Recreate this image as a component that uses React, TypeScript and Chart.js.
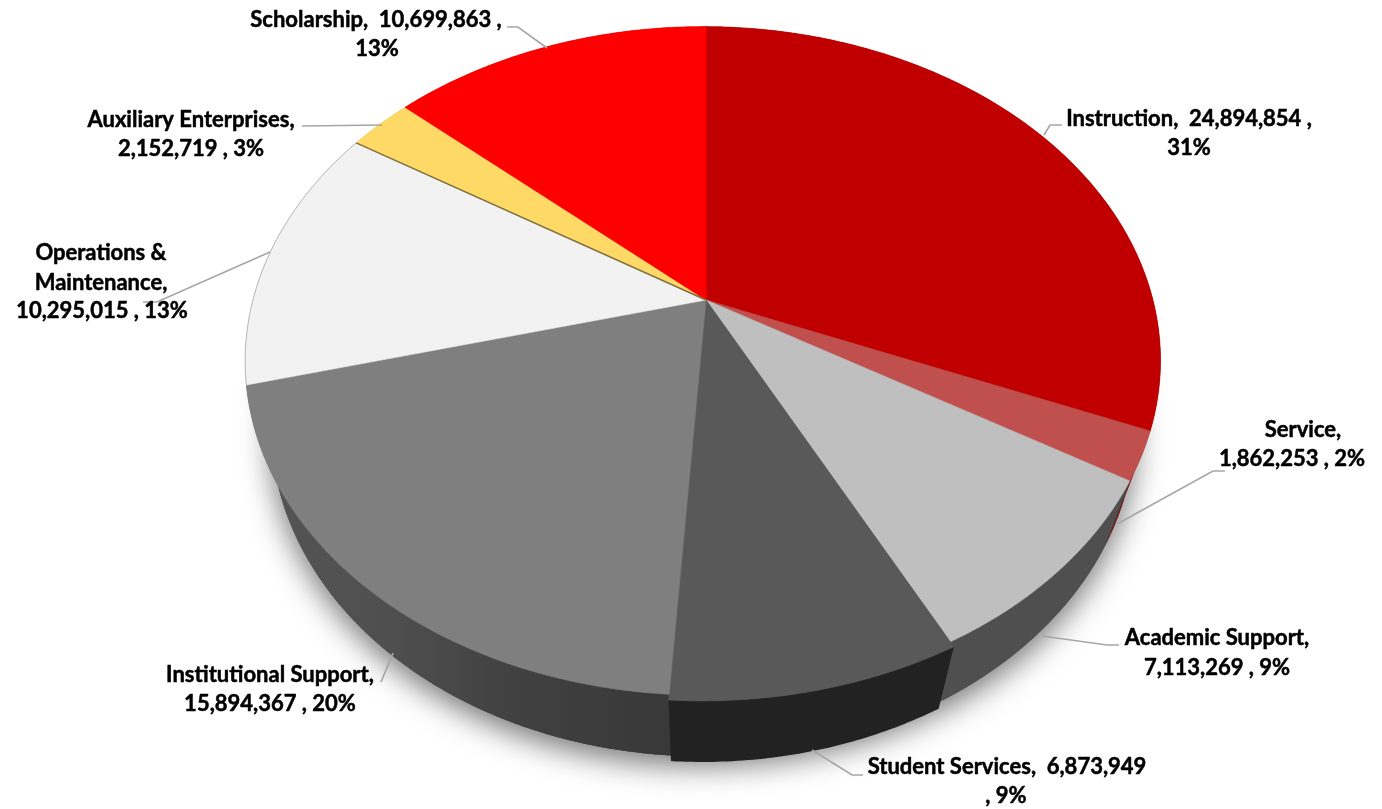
import React, { useEffect, useRef } from "react";
import { Chart, registerables } from "chart.js";

Chart.register(...registerables);

// Spending by function, clockwise from twelve o'clock.
const categories = [
  "Instruction",
  "Service",
  "Academic Support",
  "Student Services",
  "Institutional Support",
  "Operations & Maintenance",
  "Auxiliary Enterprises",
  "Scholarship",
];
const amounts = [24894854, 1862253, 7113269, 6873949, 15894367, 10295015, 2152719, 10699863];
const faceColors = ["#C00000", "#C0504D", "#BFBFBF", "#595959", "#7F7F7F", "#F2F2F2", "#FFD966", "#FF0000"];
const wallColors = ["#7a0000", "#7a1f1c", "#4f4f4f", "#222222", "#484848", "#8a8a8a", "#8f7a3a", "#900000"];
const rimScale = [1, 1, 1, 1.012, 1, 1, 1, 1];

const labelLines = [
  ["Instruction,  24,894,854 ,", "31%"],
  ["Service,", "1,862,253 , 2%"],
  ["Academic Support,", "7,113,269 , 9%"],
  ["Student Services,  6,873,949", ", 9%"],
  ["Institutional Support,", "15,894,367 , 20%"],
  ["Operations &", "Maintenance,", "10,295,015 , 13%"],
  ["Auxiliary Enterprises,", "2,152,719 , 3%"],
  ["Scholarship,  10,699,863 ,", "13%"],
];

// Placement of each text line: [centre x, centre y].
const labelPlaces = [
  [[1189, 119], [1189, 148]],
  [[1303, 430], [1292, 459]],
  [[1217, 638], [1217, 668]],
  [[1007, 767], [1006, 796]],
  [[270, 675], [270, 704]],
  [[101, 253], [101, 283], [102, 311]],
  [[191, 120], [191, 149]],
  [[376, 20], [377, 49]],
];

const leaderPaths = [
  [[1062, 125], [1050, 125], [1044, 135]],
  [[1225, 471], [1213, 471], [1117, 524]],
  [[1119, 645], [1107, 645], [1042, 636]],
  [[863, 775], [852, 775], [812, 750]],
  [[381, 682], [393, 653]],
  [[143, 302], [157, 302], [270, 252]],
  [[302, 126], [382, 125]],
  [[507, 27], [518, 27], [547, 48]],
];

// Camera model for the tilted disc, with a slight sideways turn.
const CX = 706;
const CY = 300;
const RADIUS = 450;
const FOCAL = 1720;
const TILT = (44.1 * Math.PI) / 180;
const TURN = 0.026;
const THICKNESS = 99;
const BASE_X_SCALE = 0.985;

function project(angle: number, r: number, depth: number): [number, number] {
  const x = r * Math.cos(angle);
  const y = r * Math.sin(angle);
  const k = FOCAL / (FOCAL - y * Math.sin(TILT) + x * TURN + depth * Math.cos(TILT));
  const xs = depth > 0 ? BASE_X_SCALE : 1;
  return [CX + x * k * xs, CY + (y * Math.cos(TILT) + depth * Math.sin(TILT)) * k];
}

function traceArc(ctx: CanvasRenderingContext2D, a0: number, a1: number, r: number, depth: number, move: boolean) {
  const steps = Math.max(4, Math.ceil(Math.abs(a1 - a0) / 0.01));
  for (let i = 0; i <= steps; i++) {
    const [px, py] = project(a0 + ((a1 - a0) * i) / steps, r, depth);
    if (i === 0 && move) ctx.moveTo(px, py);
    else ctx.lineTo(px, py);
  }
}

const tiltedPie = {
  id: "tiltedPie",
  beforeDatasetDraw(chart: any) {
    const ctx: CanvasRenderingContext2D = chart.ctx;
    const arcs = chart.getDatasetMeta(0).data;

    // Soft shadow cast by the underside of the disc.
    ctx.save();
    ctx.shadowColor = "rgba(0,0,0,0.55)";
    ctx.shadowBlur = 30;
    ctx.shadowOffsetY = 9;
    ctx.fillStyle = "#444";
    ctx.beginPath();
    traceArc(ctx, 0, Math.PI * 2, RADIUS, THICKNESS, true);
    ctx.closePath();
    ctx.fill();
    ctx.restore();

    // Side walls, with the nearest slices painted last.
    const wallFill = (i: number) => {
      if (i !== 4) return wallColors[i];
      const g = ctx.createLinearGradient(270, 0, 670, 0);
      g.addColorStop(0, "#545454");
      g.addColorStop(0.3, "#4f4f4f");
      g.addColorStop(0.6, "#414141");
      g.addColorStop(1, "#383838");
      return g;
    };
    for (const i of [0, 1, 5, 6, 7, 4, 2, 3]) {
      const { startAngle, endAngle } = arcs[i];
      const r = RADIUS * rimScale[i];
      ctx.beginPath();
      traceArc(ctx, startAngle, endAngle, r, 0, true);
      traceArc(ctx, endAngle, startAngle, r, THICKNESS, false);
      ctx.closePath();
      ctx.fillStyle = wallFill(i);
      ctx.fill();
    }

    // Top faces.
    arcs.forEach((arc: any, i: number) => {
      const r = RADIUS * rimScale[i];
      ctx.beginPath();
      ctx.moveTo(CX, CY);
      traceArc(ctx, arc.startAngle, arc.endAngle, r, 0, false);
      ctx.closePath();
      ctx.fillStyle = faceColors[i];
      ctx.strokeStyle = faceColors[i];
      ctx.lineWidth = 0.6;
      ctx.fill();
      ctx.stroke();
    });

    // Fine edges around the pale slice.
    const pale = arcs[5];
    ctx.beginPath();
    traceArc(ctx, pale.startAngle, pale.endAngle, RADIUS, 0, true);
    ctx.strokeStyle = "#b8b8b8";
    ctx.lineWidth = 1;
    ctx.stroke();
    ctx.beginPath();
    ctx.moveTo(CX, CY);
    const [ex, ey] = project(pale.endAngle, RADIUS, 0);
    ctx.lineTo(ex, ey);
    ctx.strokeStyle = "#7d7040";
    ctx.lineWidth = 1.4;
    ctx.stroke();
    return false;
  },
  afterDatasetsDraw(chart: any) {
    const ctx: CanvasRenderingContext2D = chart.ctx;
    ctx.save();
    ctx.strokeStyle = "#a6a6a6";
    ctx.lineWidth = 1.7;
    for (const path of leaderPaths) {
      ctx.beginPath();
      path.forEach(([x, y], i) => (i ? ctx.lineTo(x, y) : ctx.moveTo(x, y)));
      ctx.stroke();
    }
    ctx.fillStyle = "#000";
    ctx.strokeStyle = "#000";
    ctx.lineWidth = 0.5;
    ctx.lineJoin = "round";
    ctx.font = "bold 22px Lato";
    ctx.textAlign = "center";
    ctx.textBaseline = "middle";
    labelLines.forEach((lines, i) => {
      lines.forEach((text, j) => {
        const [x, y] = labelPlaces[i][j];
        ctx.fillText(text, x, y);
        ctx.strokeText(text, x, y);
      });
    });
    ctx.restore();
  },
};

export default function App() {
  const ref = useRef<HTMLCanvasElement>(null);
  useEffect(() => {
    document.body.style.margin = "0";
    const chart = new Chart(ref.current!, {
      type: "pie",
      data: {
        labels: categories,
        datasets: [{ data: amounts, backgroundColor: faceColors, borderWidth: 0 }],
      },
      options: {
        animation: false,
        responsive: false,
        plugins: { legend: { display: false }, tooltip: { enabled: false } },
      },
      plugins: [tiltedPie],
    } as any);
    return () => chart.destroy();
  }, []);
  return <canvas ref={ref} width={1382} height={809} style={{ display: "block", background: "#fff" }} />;
}
